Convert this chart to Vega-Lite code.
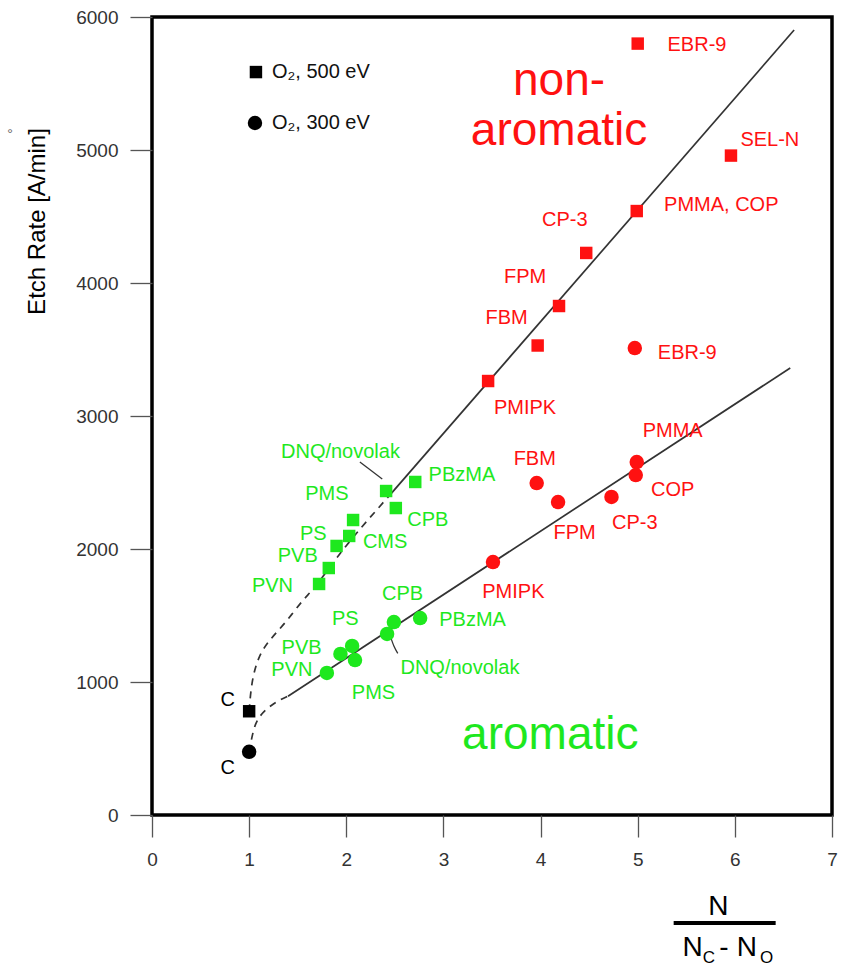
{
  "$schema": "https://vega.github.io/schema/vega-lite/v6.json",
  "width": 680,
  "height": 798,
  "autosize": {"type": "none"},
  "padding": {"left": 152, "top": 17, "right": 13, "bottom": 152},
  "background": "white",
  "config": {
    "view": {"stroke": "#000000", "strokeWidth": 3.5},
    "font": "Liberation Sans",
    "text": {"font": "Liberation Sans"}
  },
  "datasets": {
    "pts": [
      {"x": 5.0, "y": 5800, "kind": "square", "grp": "non-aromatic"},
      {"x": 5.96, "y": 4958, "kind": "square", "grp": "non-aromatic"},
      {"x": 4.99, "y": 4541, "kind": "square", "grp": "non-aromatic"},
      {"x": 4.47, "y": 4226, "kind": "square", "grp": "non-aromatic"},
      {"x": 4.19, "y": 3827, "kind": "square", "grp": "non-aromatic"},
      {"x": 3.97, "y": 3530, "kind": "square", "grp": "non-aromatic"},
      {"x": 3.46, "y": 3263, "kind": "square", "grp": "non-aromatic"},
      {"x": 4.97, "y": 3511, "kind": "circle", "grp": "non-aromatic"},
      {"x": 4.99, "y": 2654, "kind": "circle", "grp": "non-aromatic"},
      {"x": 4.98, "y": 2556, "kind": "circle", "grp": "non-aromatic"},
      {"x": 4.73, "y": 2391, "kind": "circle", "grp": "non-aromatic"},
      {"x": 3.96, "y": 2496, "kind": "circle", "grp": "non-aromatic"},
      {"x": 4.18, "y": 2353, "kind": "circle", "grp": "non-aromatic"},
      {"x": 3.51, "y": 1902, "kind": "circle", "grp": "non-aromatic"},
      {"x": 2.41, "y": 2436, "kind": "square", "grp": "aromatic"},
      {"x": 2.71, "y": 2504, "kind": "square", "grp": "aromatic"},
      {"x": 2.51, "y": 2308, "kind": "square", "grp": "aromatic"},
      {"x": 2.07, "y": 2218, "kind": "square", "grp": "aromatic"},
      {"x": 2.03, "y": 2098, "kind": "square", "grp": "aromatic"},
      {"x": 1.90, "y": 2023, "kind": "square", "grp": "aromatic"},
      {"x": 1.82, "y": 1857, "kind": "square", "grp": "aromatic"},
      {"x": 1.72, "y": 1737, "kind": "square", "grp": "aromatic"},
      {"x": 2.76, "y": 1481, "kind": "circle", "grp": "aromatic"},
      {"x": 2.49, "y": 1451, "kind": "circle", "grp": "aromatic"},
      {"x": 2.42, "y": 1361, "kind": "circle", "grp": "aromatic"},
      {"x": 2.06, "y": 1271, "kind": "circle", "grp": "aromatic"},
      {"x": 1.94, "y": 1211, "kind": "circle", "grp": "aromatic"},
      {"x": 2.09, "y": 1165, "kind": "circle", "grp": "aromatic"},
      {"x": 1.80, "y": 1068, "kind": "circle", "grp": "aromatic"},
      {"x": 1.0, "y": 780, "kind": "square", "grp": "C"},
      {"x": 1.0, "y": 475, "kind": "circle", "grp": "C"},
      {"x": 1.07, "y": 5586, "kind": "square", "grp": "C"},
      {"x": 1.06, "y": 5203, "kind": "circle", "grp": "C"}
    ],
    "lines": [
      {"id": "upper", "kind": "solid", "ord": 1, "x": 2.45, "y": 2407},
      {"id": "upper", "kind": "solid", "ord": 2, "x": 6.61, "y": 5902},
      {"id": "lower", "kind": "solid", "ord": 1, "x": 1.40, "y": 893},
      {"id": "lower", "kind": "solid", "ord": 2, "x": 6.57, "y": 3361},
      {"id": "upperd", "kind": "dashed", "ord": 1, "x": 1.0, "y": 780},
      {"id": "upperd", "kind": "dashed", "ord": 2, "x": 1.03, "y": 990},
      {"id": "upperd", "kind": "dashed", "ord": 3, "x": 1.10, "y": 1180},
      {"id": "upperd", "kind": "dashed", "ord": 4, "x": 1.22, "y": 1320},
      {"id": "upperd", "kind": "dashed", "ord": 5, "x": 1.38, "y": 1455},
      {"id": "upperd", "kind": "dashed", "ord": 6, "x": 1.55, "y": 1610},
      {"id": "upperd", "kind": "dashed", "ord": 7, "x": 1.71, "y": 1745},
      {"id": "upperd", "kind": "dashed", "ord": 8, "x": 2.0, "y": 2025},
      {"id": "upperd", "kind": "dashed", "ord": 9, "x": 2.45, "y": 2407},
      {"id": "lowerd", "kind": "dashed", "ord": 1, "x": 1.0, "y": 470},
      {"id": "lowerd", "kind": "dashed", "ord": 2, "x": 1.04, "y": 620},
      {"id": "lowerd", "kind": "dashed", "ord": 3, "x": 1.11, "y": 740},
      {"id": "lowerd", "kind": "dashed", "ord": 4, "x": 1.25, "y": 835},
      {"id": "lowerd", "kind": "dashed", "ord": 5, "x": 1.40, "y": 893},
      {"id": "lead1", "kind": "leader", "ord": 1, "x": 2.14, "y": 2654},
      {"id": "lead1", "kind": "leader", "ord": 2, "x": 2.37, "y": 2526},
      {"id": "lead2", "kind": "leader", "ord": 1, "x": 2.46, "y": 1330},
      {"id": "lead2", "kind": "leader", "ord": 2, "x": 2.49, "y": 1270},
      {"id": "lead2", "kind": "leader", "ord": 3, "x": 2.53, "y": 1215}
    ],
    "labs": [
      {"x": 5.61, "y": 5790, "text": "EBR-9", "grp": "non-aromatic"},
      {"x": 6.36, "y": 5075, "text": "SEL-N", "grp": "non-aromatic"},
      {"x": 5.86, "y": 4586, "text": "PMMA, COP", "grp": "non-aromatic"},
      {"x": 4.25, "y": 4470, "text": "CP-3", "grp": "non-aromatic"},
      {"x": 3.84, "y": 4045, "text": "FPM", "grp": "non-aromatic"},
      {"x": 3.65, "y": 3737, "text": "FBM", "grp": "non-aromatic"},
      {"x": 3.84, "y": 3060, "text": "PMIPK", "grp": "non-aromatic"},
      {"x": 5.51, "y": 3474, "text": "EBR-9", "grp": "non-aromatic"},
      {"x": 5.36, "y": 2887, "text": "PMMA", "grp": "non-aromatic"},
      {"x": 5.36, "y": 2444, "text": "COP", "grp": "non-aromatic"},
      {"x": 4.97, "y": 2195, "text": "CP-3", "grp": "non-aromatic"},
      {"x": 4.35, "y": 2120, "text": "FPM", "grp": "non-aromatic"},
      {"x": 3.94, "y": 2680, "text": "FBM", "grp": "non-aromatic"},
      {"x": 3.72, "y": 1677, "text": "PMIPK", "grp": "non-aromatic"},
      {"x": 1.94, "y": 2729, "text": "DNQ/novolak", "grp": "aromatic"},
      {"x": 3.19, "y": 2556, "text": "PBzMA", "grp": "aromatic"},
      {"x": 1.80, "y": 2410, "text": "PMS", "grp": "aromatic"},
      {"x": 2.84, "y": 2218, "text": "CPB", "grp": "aromatic"},
      {"x": 1.66, "y": 2113, "text": "PS", "grp": "aromatic"},
      {"x": 2.40, "y": 2053, "text": "CMS", "grp": "aromatic"},
      {"x": 1.50, "y": 1947, "text": "PVB", "grp": "aromatic"},
      {"x": 1.24, "y": 1722, "text": "PVN", "grp": "aromatic"},
      {"x": 2.58, "y": 1662, "text": "CPB", "grp": "aromatic"},
      {"x": 1.99, "y": 1474, "text": "PS", "grp": "aromatic"},
      {"x": 3.30, "y": 1466, "text": "PBzMA", "grp": "aromatic"},
      {"x": 1.54, "y": 1256, "text": "PVB", "grp": "aromatic"},
      {"x": 1.44, "y": 1090, "text": "PVN", "grp": "aromatic"},
      {"x": 3.17, "y": 1105, "text": "DNQ/novolak", "grp": "aromatic"},
      {"x": 2.28, "y": 917, "text": "PMS", "grp": "aromatic"},
      {"x": 0.78, "y": 865, "text": "C", "grp": "C"},
      {"x": 0.78, "y": 353, "text": "C", "grp": "C"}
    ],
    "big": [
      {"x": 4.19, "y": 5414, "text": "non-", "grp": "non-aromatic"},
      {"x": 4.19, "y": 5038, "text": "aromatic", "grp": "non-aromatic"},
      {"x": 4.10, "y": 496, "text": "aromatic", "grp": "aromatic"}
    ],
    "legtext": [
      {"x": 1.235, "y": 5586, "text": "O₂, 500 eV"},
      {"x": 1.235, "y": 5203, "text": "O₂, 300 eV"}
    ],
    "frac": [
      {"x": 5.83, "y": -752, "text": "N", "part": "num"},
      {"x": 5.46, "y": -1062, "text": "N", "part": "den"},
      {"x": 5.84, "y": -1062, "text": "-", "part": "den"},
      {"x": 6.02, "y": -1062, "text": "N", "part": "den"},
      {"x": 5.67, "y": -1112, "text": "C", "part": "sub"},
      {"x": 6.26, "y": -1112, "text": "O", "part": "sub"}
    ],
    "bar": [
      {"x": 5.37, "x2": 6.42, "y": -812}
    ],
    "ring": [
      {"x": -1.46, "y": 5113, "text": "°"}
    ]
  },
  "encoding": {
    "x": {
      "field": "x",
      "type": "quantitative",
      "scale": {"domain": [0, 7], "nice": false, "zero": false},
      "axis": {
        "values": [0, 1, 2, 3, 4, 5, 6, 7],
        "format": "d",
        "title": null,
        "domain": false,
        "grid": false,
        "tickSize": 22,
        "tickColor": "#555555",
        "tickWidth": 1.3,
        "labelFontSize": 19,
        "labelColor": "#333333",
        "labelPadding": 13,
        "labelFlush": false,
        "labelOverlap": false,
        "labelFont": "Liberation Sans"
      }
    },
    "y": {
      "field": "y",
      "type": "quantitative",
      "scale": {"domain": [0, 6000], "nice": false, "zero": false},
      "axis": {
        "values": [0, 1000, 2000, 3000, 4000, 5000, 6000],
        "format": "d",
        "title": "Etch Rate [A/min]",
        "titleFontSize": 24,
        "titleFontWeight": "normal",
        "titleColor": "#000000",
        "titleFont": "Liberation Sans",
        "titleX": -115,
        "titleY": 204,
        "titleAngle": 270,
        "titleAlign": "center",
        "titleBaseline": "middle",
        "domain": false,
        "grid": false,
        "tickSize": 22,
        "tickColor": "#555555",
        "tickWidth": 1.3,
        "labelFontSize": 19,
        "labelColor": "#333333",
        "labelPadding": 12,
        "labelFlush": false,
        "labelOverlap": false,
        "labelFont": "Liberation Sans"
      }
    }
  },
  "layer": [
    {
      "data": {"name": "lines"},
      "transform": [{"filter": "datum.kind === 'solid'"}],
      "mark": {"type": "line", "color": "#333333", "strokeWidth": 1.7},
      "encoding": {"detail": {"field": "id"}, "order": {"field": "ord", "type": "quantitative"}}
    },
    {
      "data": {"name": "lines"},
      "transform": [{"filter": "datum.kind === 'dashed'"}],
      "mark": {"type": "line", "color": "#333333", "strokeWidth": 1.7, "strokeDash": [7, 6], "interpolate": "natural"},
      "encoding": {"detail": {"field": "id"}, "order": {"field": "ord", "type": "quantitative"}}
    },
    {
      "data": {"name": "lines"},
      "transform": [{"filter": "datum.kind === 'leader'"}],
      "mark": {"type": "line", "color": "#333333", "strokeWidth": 1.3, "interpolate": "monotone"},
      "encoding": {"detail": {"field": "id"}, "order": {"field": "ord", "type": "quantitative"}}
    },
    {
      "data": {"name": "pts"},
      "transform": [{"filter": "datum.kind === 'square'"}],
      "mark": {"type": "square", "size": 155, "opacity": 1},
      "encoding": {
        "color": {"field": "grp", "type": "nominal", "scale": {"domain": ["non-aromatic", "aromatic", "C"], "range": ["#ff1111", "#1ee81e", "#000000"]}, "legend": null}
      }
    },
    {
      "data": {"name": "pts"},
      "transform": [{"filter": "datum.kind === 'circle'"}],
      "mark": {"type": "circle", "size": 210, "opacity": 1},
      "encoding": {
        "color": {"field": "grp", "type": "nominal", "legend": null}
      }
    },
    {
      "data": {"name": "labs"},
      "mark": {"type": "text", "fontSize": 20, "align": "center", "baseline": "middle"},
      "encoding": {
        "text": {"field": "text"},
        "color": {"field": "grp", "type": "nominal", "legend": null}
      }
    },
    {
      "data": {"name": "big"},
      "mark": {"type": "text", "fontSize": 46, "align": "center", "baseline": "alphabetic"},
      "encoding": {
        "text": {"field": "text"},
        "color": {"field": "grp", "type": "nominal", "legend": null}
      }
    },
    {
      "data": {"name": "legtext"},
      "mark": {"type": "text", "fontSize": 20, "align": "left", "baseline": "middle", "color": "#111111"},
      "encoding": {"text": {"field": "text"}}
    },
    {
      "data": {"name": "frac"},
      "transform": [{"filter": "datum.part === 'num'"}],
      "mark": {"type": "text", "fontSize": 28, "align": "center", "baseline": "alphabetic", "color": "#000000"},
      "encoding": {"text": {"field": "text"}}
    },
    {
      "data": {"name": "frac"},
      "transform": [{"filter": "datum.part === 'den'"}],
      "mark": {"type": "text", "fontSize": 28, "align": "left", "baseline": "alphabetic", "color": "#000000"},
      "encoding": {"text": {"field": "text"}}
    },
    {
      "data": {"name": "frac"},
      "transform": [{"filter": "datum.part === 'sub'"}],
      "mark": {"type": "text", "fontSize": 17, "align": "left", "baseline": "alphabetic", "color": "#000000"},
      "encoding": {"text": {"field": "text"}}
    },
    {
      "data": {"name": "bar"},
      "mark": {"type": "rule", "color": "#000000", "strokeWidth": 4},
      "encoding": {"x2": {"field": "x2"}}
    },
    {
      "data": {"name": "ring"},
      "mark": {"type": "text", "fontSize": 14, "align": "center", "baseline": "middle", "color": "#666666"},
      "encoding": {"text": {"field": "text"}}
    }
  ]
}
